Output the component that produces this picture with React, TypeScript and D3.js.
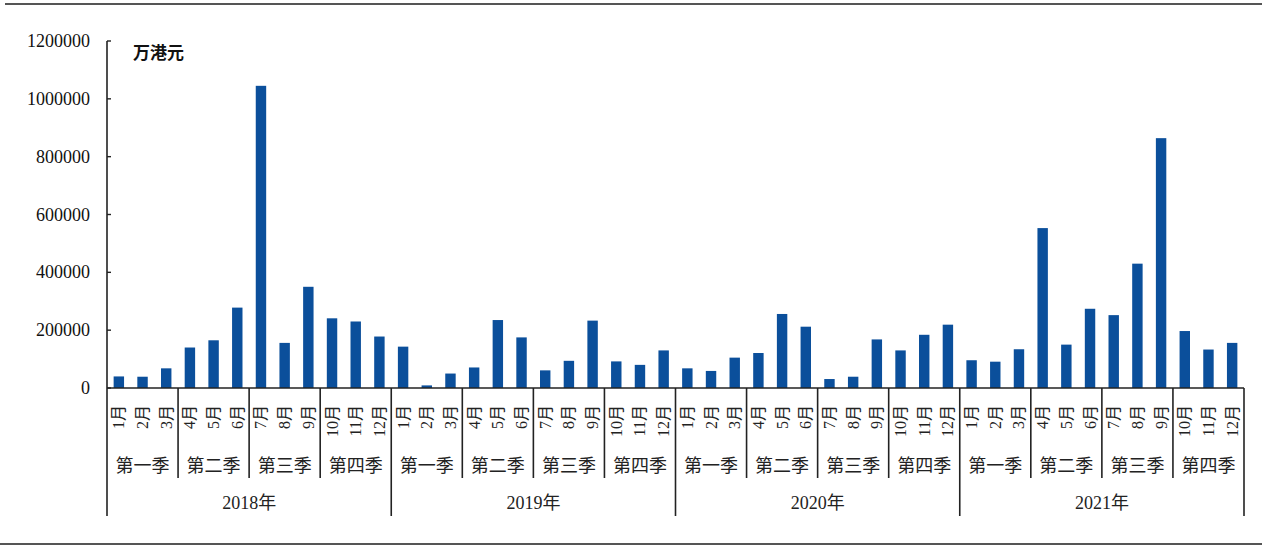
import React from "react";
import * as d3 from "d3";

const years = ["2018年", "2019年", "2020年", "2021年"];
const quarters = ["第一季", "第二季", "第三季", "第四季"];
const months = ["1月", "2月", "3月", "4月", "5月", "6月", "7月", "8月", "9月", "10月", "11月", "12月"];
const values2018 = [40000, 39000, 68000, 140000, 165000, 278000, 1045000, 156000, 350000, 241000, 230000, 178000];
const values2019 = [143000, 9000, 50000, 71000, 235000, 175000, 61000, 94000, 233000, 92000, 80000, 130000];
const values2020 = [68000, 59000, 105000, 121000, 256000, 212000, 31000, 39000, 168000, 130000, 184000, 219000];
const values2021 = [96000, 91000, 134000, 553000, 150000, 274000, 252000, 430000, 864000, 197000, 133000, 156000];
const yTicks = [0, 200000, 400000, 600000, 800000, 1000000, 1200000];
const unitLabel = "万港元";

const W = 1269;
const H = 548;
const left = 107;
const right = 1244;
const top = 41;
const base = 388;

const serif = "'Liberation Serif', 'Times New Roman', 'Noto Sans CJK SC', serif";

export default function App() {
  const all = [...values2018, ...values2019, ...values2020, ...values2021];
  const idx = d3.range(all.length);
  const x = d3.scaleBand<number>().domain(idx).range([left, right]).padding(0);
  const y = d3.scaleLinear().domain([0, 1200000]).range([base, top]);
  const bw = x.bandwidth();
  const barW = bw * 0.44;

  const quarterBounds = d3.range(years.length * 4 + 1).map((q) => left + q * 3 * bw);
  const yearBounds = d3.range(years.length + 1).map((k) => left + k * 12 * bw);

  return (
    <svg width={W} height={H} style={{ position: "absolute", left: 0, top: 0, background: "#fff" }}>
      <line x1={5} x2={1262} y1={4} y2={4} stroke="#555" strokeWidth={2} />
      <line x1={0} x2={1262} y1={544} y2={544} stroke="#555" strokeWidth={2} />

      {idx.map((i) => (
        <rect
          key={i}
          x={(x(i) as number) + (bw - barW) / 2}
          y={y(all[i])}
          width={barW}
          height={base - y(all[i])}
          fill="#0b4f9b"
        />
      ))}

      <line x1={left} x2={left} y1={top} y2={base} stroke="#222" strokeWidth={1.6} />
      {yTicks.map((t) => (
        <g key={t}>
          <line x1={left} x2={left + 4} y1={y(t)} y2={y(t)} stroke="#222" strokeWidth={1.4} />
          <text
            x={90}
            y={y(t)}
            textAnchor="end"
            dominantBaseline="central"
            fontFamily={serif}
            fontSize={18}
            fill="#111"
          >
            {t}
          </text>
        </g>
      ))}
      <text x={133} y={51} dominantBaseline="central" fontFamily="'Noto Sans CJK SC', sans-serif" fontWeight="bold" fontSize={17} fill="#111">
        {unitLabel}
      </text>

      <line x1={left} x2={right} y1={base} y2={base} stroke="#222" strokeWidth={1.6} />
      {quarterBounds.map((qx, q) => (
        <line
          key={"q" + q}
          x1={qx}
          x2={qx}
          y1={base}
          y2={q % 4 === 0 ? 516 : 478}
          stroke="#222"
          strokeWidth={1.6}
        />
      ))}

      {idx.map((i) => {
        const cx = (x(i) as number) + bw / 2;
        return (
          <text
            key={"m" + i}
            transform={`translate(${cx},405) rotate(-90)`}
            textAnchor="end"
            dominantBaseline="central"
            fontFamily={serif}
            fontSize={16}
            fill="#222"
          >
            {months[i % 12]}
          </text>
        );
      })}

      {d3.range(years.length * 4).map((q) => (
        <text
          key={"ql" + q}
          x={(quarterBounds[q] + quarterBounds[q + 1]) / 2}
          y={466}
          textAnchor="middle"
          dominantBaseline="central"
          fontFamily={serif}
          fontSize={18}
          fill="#222"
        >
          {quarters[q % 4]}
        </text>
      ))}

      {years.map((yr, k) => (
        <text
          key={yr}
          x={(yearBounds[k] + yearBounds[k + 1]) / 2}
          y={503}
          textAnchor="middle"
          dominantBaseline="central"
          fontFamily={serif}
          fontSize={18}
          fill="#222"
        >
          {yr}
        </text>
      ))}
    </svg>
  );
}
